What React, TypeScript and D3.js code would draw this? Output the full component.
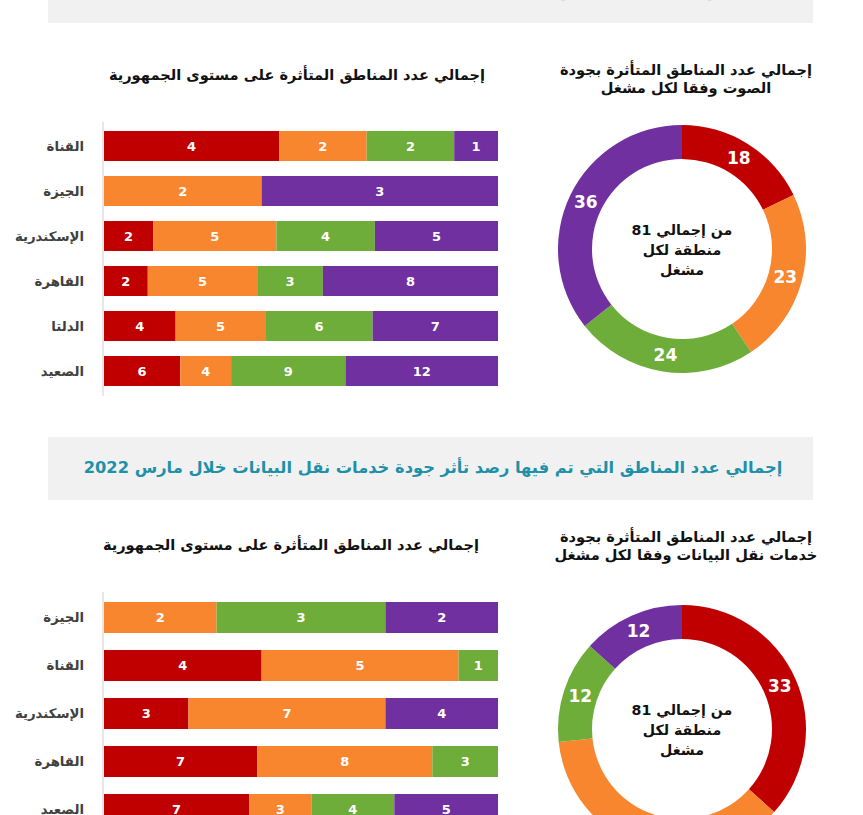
import React from "react";
import * as d3 from "d3";

const seriesKeys = ["red", "orange", "green", "purple"];
const colors = ["#C00000", "#F7862F", "#6FAD3A", "#7030A0"];

const voiceCategories = ["القناة", "الجيزة", "الإسكندرية", "القاهرة", "الدلتا", "الصعيد"];
const voiceRed = [4, 0, 2, 2, 4, 6];
const voiceOrange = [2, 2, 5, 5, 5, 4];
const voiceGreen = [2, 0, 4, 3, 6, 9];
const voicePurple = [1, 3, 5, 8, 7, 12];
const voiceDonut = [18, 23, 24, 36];

const dataCategories = ["الجيزة", "القناة", "الإسكندرية", "القاهرة", "الصعيد"];
const dataRed = [0, 4, 3, 7, 7];
const dataOrange = [2, 5, 7, 8, 3];
const dataGreen = [3, 1, 0, 3, 4];
const dataPurple = [2, 0, 4, 0, 5];
const dataDonut = [33, 33, 12, 12];

const topBannerTitle = "إجمالي عدد المناطق التي تم فيها رصد تأثر جودة خدمات الصوت خلال مارس 2022";
const bannerTitle = "إجمالي عدد المناطق التي تم فيها رصد تأثر جودة خدمات نقل البيانات خلال مارس 2022";
const barTitle = "إجمالي عدد المناطق المتأثرة على مستوى الجمهورية";
const voiceDonutTitle = ["إجمالي عدد المناطق المتأثرة بجودة", "الصوت وفقا لكل مشغل"];
const dataDonutTitle = ["إجمالي عدد المناطق المتأثرة بجودة", "خدمات نقل البيانات وفقا لكل مشغل"];
const centerText = ["من إجمالي 81", "منطقة لكل", "مشغل"];

const FONT = "'DejaVu Sans', sans-serif";

type BarProps = {
  cats: string[];
  red: number[];
  orange: number[];
  green: number[];
  purple: number[];
  y0: number;
  y1: number;
  pad: number;
  axisTop: number;
  axisBottom: number;
};

function StackedBars({ cats, red, orange, green, purple, y0, y1, pad, axisTop, axisBottom }: BarProps) {
  const rows = cats.map((c, i) => ({ cat: c, red: red[i], orange: orange[i], green: green[i], purple: purple[i] }));
  const stack = d3.stack<any>().keys(seriesKeys).offset(d3.stackOffsetExpand);
  const series = stack(rows);
  const x = d3.scaleLinear().domain([0, 1]).range([104, 498]);
  const y = d3.scaleBand().domain(cats).range([y0, y1]).paddingInner(pad).paddingOuter(pad / 2);
  return (
    <g>
      <line x1={103} x2={103} y1={axisTop} y2={axisBottom} stroke="#d0d0d0" strokeWidth={1} />
      {cats.map((c) => (
        <text
          key={c}
          x={84}
          y={(y(c) as number) + y.bandwidth() / 2}
          dy="0.35em"
          textAnchor="end"
          fontFamily={FONT}
          fontWeight="bold"
          fontSize={13.3}
          fill="#404040"
        >
          {c}
        </text>
      ))}
      {series.map((s, si) =>
        s.map((d, i) => {
          const v = (rows[i] as any)[seriesKeys[si]];
          if (!v) return null;
          const xa = x(d[0]);
          const xb = x(d[1]);
          const yy = y(rows[i].cat) as number;
          return (
            <g key={si + "-" + i}>
              <rect x={xa} y={yy} width={xb - xa} height={y.bandwidth()} fill={colors[si]} />
              <text
                x={(xa + xb) / 2}
                y={yy + y.bandwidth() / 2}
                dy="0.36em"
                textAnchor="middle"
                fontFamily={FONT}
                fontWeight="bold"
                fontSize={13}
                fill="#ffffff"
              >
                {v}
              </text>
            </g>
          );
        })
      )}
    </g>
  );
}

function Donut({ values, cx, cy }: { values: number[]; cx: number; cy: number }) {
  const pie = d3.pie<number>().sort(null).value((d) => d);
  const arcs = pie(values);
  const arc = d3.arc<d3.PieArcDatum<number>>().innerRadius(90).outerRadius(124);
  const labelArc = d3.arc<d3.PieArcDatum<number>>().innerRadius(107).outerRadius(107);
  return (
    <g transform={`translate(${cx},${cy})`}>
      {arcs.map((a, i) => (
        <path key={i} d={arc(a) as string} fill={colors[i]} />
      ))}
      {arcs.map((a, i) => {
        const [lx, ly] = labelArc.centroid(a);
        return (
          <text
            key={"l" + i}
            x={lx}
            y={ly}
            dy="0.36em"
            textAnchor="middle"
            fontFamily={FONT}
            fontWeight="bold"
            fontSize={17}
            fill="#ffffff"
          >
            {a.data}
          </text>
        );
      })}
      {centerText.map((t, i) => (
        <text
          key={"c" + i}
          x={0}
          y={-19 + i * 20}
          dy="0.35em"
          textAnchor="middle"
          direction="rtl"
          fontFamily={FONT}
          fontWeight="bold"
          fontSize={14.2}
          fill="#111111"
        >
          {t}
        </text>
      ))}
    </g>
  );
}

export default function App() {
  return (
    <svg
      width={863}
      height={815}
      viewBox="0 0 863 815"
      style={{ position: "absolute", left: 0, top: 0, background: "#ffffff" }}
    >
      <rect x={0} y={0} width={863} height={815} fill="#ffffff" />
      {/* top banner (cut off) */}
      <rect x={48} y={-30} width={765} height={53} fill="#f1f1f1" />
      <text
        x={432}
        y={-4}
        textAnchor="middle"
        direction="rtl"
        fontFamily={FONT}
        fontWeight="bold"
        fontSize={16.3}
        fill="#1E90A8"
      >
        {topBannerTitle}
      </text>

      {/* voice section */}
      <text x={297} y={75} dy="0.35em" textAnchor="middle" direction="rtl" fontFamily={FONT} fontWeight="bold" fontSize={14.6} fill="#111">
        {barTitle}
      </text>
      {voiceDonutTitle.map((t, i) => (
        <text key={i} x={686} y={70 + i * 18} dy="0.35em" textAnchor="middle" direction="rtl" fontFamily={FONT} fontWeight="bold" fontSize={14.6} fill="#111">
          {t}
        </text>
      ))}
      <StackedBars
        cats={voiceCategories}
        red={voiceRed}
        orange={voiceOrange}
        green={voiceGreen}
        purple={voicePurple}
        y0={123.5}
        y1={393.5}
        pad={1 / 3}
        axisTop={122}
        axisBottom={396}
      />
      <Donut values={voiceDonut} cx={682} cy={249} />

      {/* data banner */}
      <rect x={48} y={437} width={765} height={63} fill="#f1f1f1" />
      <text
        x={433}
        y={467}
        dy="0.35em"
        textAnchor="middle"
        direction="rtl"
        fontFamily={FONT}
        fontWeight="bold"
        fontSize={16.3}
        fill="#1E90A8"
      >
        {bannerTitle}
      </text>

      {/* data section */}
      <text x={291} y={545} dy="0.35em" textAnchor="middle" direction="rtl" fontFamily={FONT} fontWeight="bold" fontSize={14.6} fill="#111">
        {barTitle}
      </text>
      {dataDonutTitle.map((t, i) => (
        <text key={i} x={686} y={537 + i * 18} dy="0.35em" textAnchor="middle" direction="rtl" fontFamily={FONT} fontWeight="bold" fontSize={14.6} fill="#111">
          {t}
        </text>
      ))}
      <StackedBars
        cats={dataCategories}
        red={dataRed}
        orange={dataOrange}
        green={dataGreen}
        purple={dataPurple}
        y0={593.5}
        y1={833.5}
        pad={17 / 48}
        axisTop={592}
        axisBottom={840}
      />
      <Donut values={dataDonut} cx={682} cy={729} />
    </svg>
  );
}
